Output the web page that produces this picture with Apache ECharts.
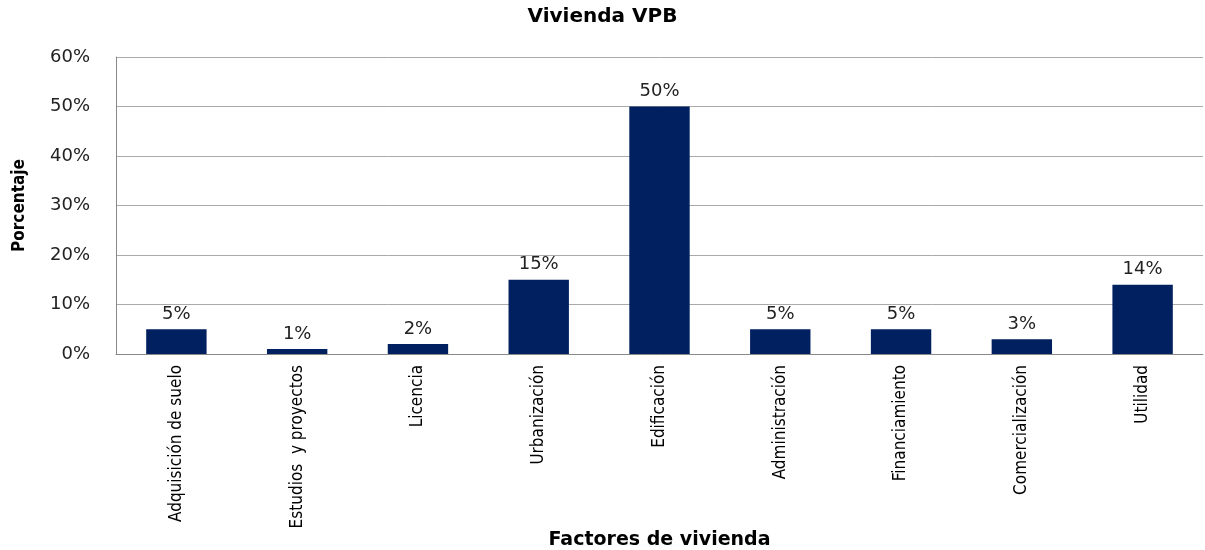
<!DOCTYPE html>
<html>
<head>
<meta charset="utf-8">
<script src="https://cdn.jsdelivr.net/npm/echarts@6/dist/echarts.min.js"></script>
<style>
  html, body { margin: 0; padding: 0; background: #fff; }
  #chart { width: 1205px; height: 550px; }
</style>
</head>
<body>
<div id="chart"></div>
<script>
const categories = ['Adquisición de suelo', 'Estudios  y proyectos', 'Licencia', 'Urbanización', 'Edificación', 'Administración', 'Financiamiento', 'Comercialización', 'Utilidad'];
const values = [5, 1, 2, 15, 50, 5, 5, 3, 14];
const yTicks = [0, 10, 20, 30, 40, 50, 60];

let myChart = echarts.init(document.getElementById('chart'));
let option = {
  backgroundColor: '#fff',
  animation: false,
  title: {
    text: 'Vivienda VPB',
    left: 'center',
    top: 2,
    textStyle: { fontFamily: 'DejaVu Sans', fontSize: 20, fontWeight: 'bold', color: '#000' }
  },
  grid: { left: 116, right: 2, top: 57, bottom: 196, outerBoundsMode: 'none' },
  xAxis: {
    type: 'category',
    data: categories,
    name: 'Factores de vivienda',
    nameLocation: 'middle',
    nameGap: 186,
    nameMoveOverlap: false,
    nameTextStyle: { fontFamily: 'DejaVu Sans', fontSize: 19, fontWeight: 'bold', color: '#000', verticalAlign: 'middle' },
    axisLine: { lineStyle: { color: '#888' } },
    axisTick: { show: false },
    axisLabel: {
      rotate: 90,
      interval: 0,
      margin: 11,
      fontFamily: 'Liberation Sans Narrow, DejaVu Sans Condensed',
      fontSize: 17,
      color: '#000'
    }
  },
  yAxis: {
    type: 'value',
    min: yTicks[0],
    max: yTicks[yTicks.length - 1],
    interval: 10,
    name: 'Porcentaje',
    nameLocation: 'middle',
    nameGap: 88,
    nameRotate: 90,
    nameMoveOverlap: false,
    nameTextStyle: { fontFamily: 'Liberation Sans Narrow, DejaVu Sans Condensed', fontSize: 17, fontWeight: 'bold', color: '#000' },
    axisLine: { show: true, lineStyle: { color: '#888' } },
    axisTick: { show: false },
    splitLine: { lineStyle: { color: '#aaa' } },
    axisLabel: {
      margin: 26,
      fontFamily: 'DejaVu Sans',
      fontSize: 18,
      color: '#222',
      formatter: '{value}%'
    }
  },
  series: [
    {
      type: 'bar',
      data: values,
      barWidth: '50%',
      itemStyle: { color: '#002060' },
      label: {
        show: true,
        position: 'top',
        distance: 6,
        formatter: '{c}%',
        fontFamily: 'DejaVu Sans',
        fontSize: 18,
        color: '#222'
      }
    }
  ]
};
myChart.setOption(option);
</script>
</body>
</html>
